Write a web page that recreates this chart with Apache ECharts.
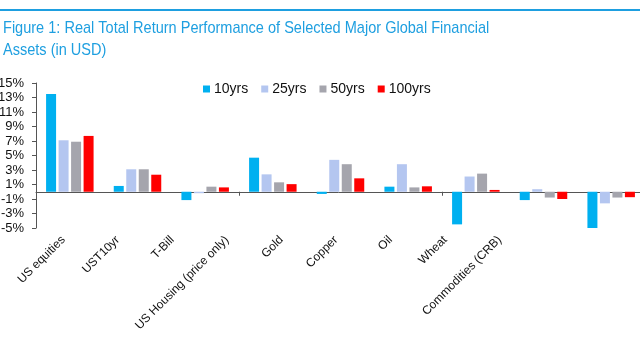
<!DOCTYPE html>
<html><head><meta charset="utf-8">
<script src="https://cdn.jsdelivr.net/npm/echarts@6/dist/echarts.min.js"></script>
<style>html,body{margin:0;padding:0;background:#fff}#c{width:640px;height:360px}</style>
</head><body><div id="c"></div>
<script>
const categories = ['US equities','UST10yr','T-Bill','US Housing (price only)','Gold','Copper','Oil','Wheat','Commodities (CRB)'];
const seriesNames = ['10yrs','25yrs','50yrs','100yrs'];
const s10 = [13.5, 0.8, -1.15, 4.7, -0.3, 0.7, -4.5, -1.15, -5.0];
const s25 = [7.1, 3.1, -0.2, 2.4, 4.4, 3.8, 2.1, 0.35, -1.6];
const s50 = [6.9, 3.1, 0.7, 1.3, 3.8, 0.6, 2.5, -0.8, -0.8];
const s100 = [7.7, 2.35, 0.6, 1.05, 1.85, 0.75, 0.25, -1.0, -0.75];
const colors = ['#00B0F0', '#B4C6F0', '#A5A5AD', '#FF0000'];
const titleText = 'Figure 1: Real Total Return Performance of Selected Major Global Financial\nAssets (in USD)';

const chart = echarts.init(document.getElementById('c'), null, {renderer: 'canvas'});
const data = [s10, s25, s50, s100];
chart.setOption({
  animation: false,
  color: colors,
  graphic: [
    {type: 'rect', shape: {x: 0, y: 9, width: 640, height: 2}, style: {fill: '#1E9FE0'}},
    {type: 'text', x: 3, y: 17, scaleX: 0.855,
     style: {text: titleText, font: '17px "Liberation Sans", Arial, sans-serif', fill: '#1E9FE0', lineHeight: 22, textVerticalAlign: 'top'}}
  ],
  legend: {
    data: seriesNames, left: 198, top: 77, itemWidth: 7, itemHeight: 7, itemGap: 13,
    icon: 'rect',
    textStyle: {fontFamily: 'Liberation Sans, Arial, sans-serif', fontSize: 14, color: '#111', padding: [0,0,0,-1]}
  },
  grid: [
    {left: 36, right: -5, top: 83, bottom: 132, containLabel: false, outerBoundsMode: 'none'},
    {left: 36, width: 491, top: 83, bottom: 132, containLabel: false, outerBoundsMode: 'none'}
  ],
  xAxis: [{
    type: 'category', data: categories, gridIndex: 0, position: 'bottom',
    axisLine: {show: true, onZero: true, lineStyle: {color: '#555', width: 1}},
    axisTick: {show: true, length: 4, lineStyle: {color: '#555'}},
    axisLabel: {show: false}
  }, {
    type: 'category', data: categories, gridIndex: 1, position: 'bottom',
    axisLine: {show: false, onZero: false}, axisTick: {show: false},
    axisLabel: {rotate: 45, interval: 0, margin: 10, fontFamily: 'Liberation Sans, Arial, sans-serif', fontSize: 12, color: '#111'}
  }],
  yAxis: [{
    type: 'value', min: -5, max: 15, interval: 2, gridIndex: 0,
    axisLine: {show: true, lineStyle: {color: '#555'}},
    axisTick: {show: true, length: 4, lineStyle: {color: '#555'}},
    splitLine: {show: false},
    axisLabel: {formatter: '{value}%', margin: 12, fontFamily: 'Liberation Sans, Arial, sans-serif', fontSize: 13, color: '#111'}
  }, {
    type: 'value', min: -5, max: 15, gridIndex: 1, show: false
  }],
  series: seriesNames.map((n, i) => ({
    name: n, type: 'bar', xAxisIndex: 0, yAxisIndex: 0, data: data[i],
    barWidth: 10, barGap: '25%', barCategoryGap: '30%',
    itemStyle: {color: colors[i]}
  }))
});
</script></body></html>
